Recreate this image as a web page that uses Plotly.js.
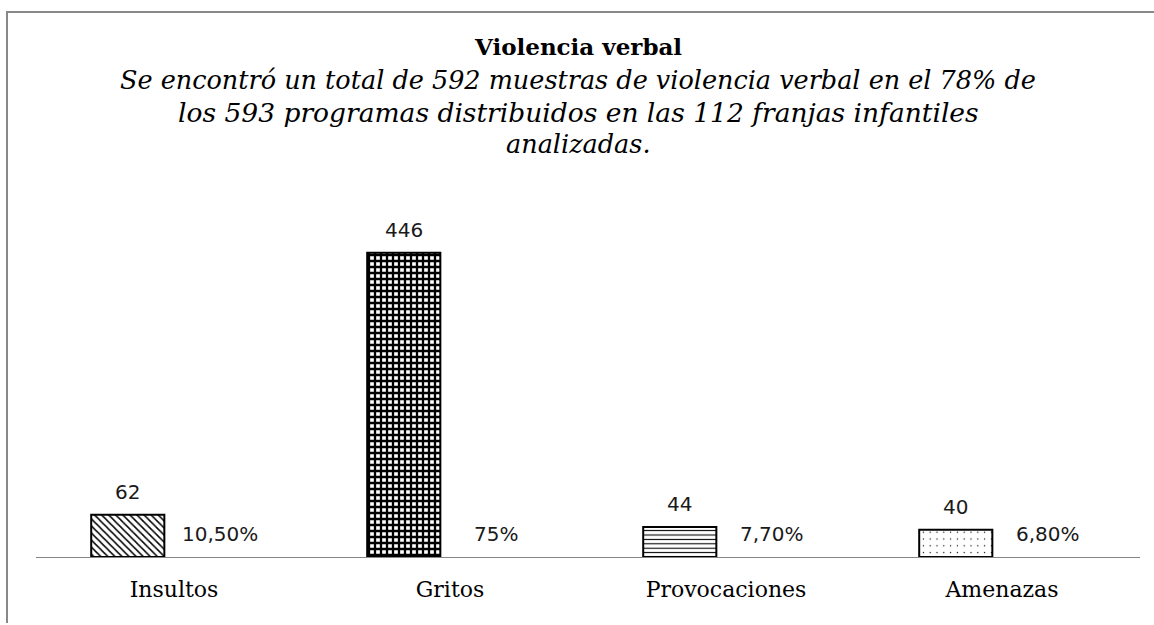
<!DOCTYPE html>
<html>
<head>
<meta charset="utf-8">
<script src="https://cdn.plot.ly/plotly-3.0.1.min.js"></script>
<style>
  html, body { margin: 0; padding: 0; background: #fff; }
  #chart { width: 1154px; height: 625px; }
</style>
</head>
<body>
<div id="chart"></div>
<script>
// ---- data ----
const categories = ['Insultos', 'Gritos', 'Provocaciones', 'Amenazas'];
const counts = [62, 446, 44, 40];
const percentLabels = ['10,50%', '75%', '7,70%', '6,80%'];
const titleText = 'Violencia verbal';
const subtitleLines = [
  'Se encontró un total de 592 muestras de violencia verbal en el 78% de',
  'los 593 programas distribuidos en las 112 franjas infantiles',
  'analizadas.'
];

// ---- layout geometry (pixels) ----
const W = 1154, H = 625;
const M = { l: 36, r: 14, t: 216, b: 68 };
const plotW = W - M.l - M.r, plotH = H - M.t - M.b;
const px2x = px => (px - M.l) / plotW;
const py2y = py => (H - M.b - py) / plotH;

const barOffset = -0.30, barWidth = 0.265;

const barTrace = {
  type: 'bar',
  x: categories,
  y: counts,
  offset: barOffset,
  width: barWidth,
  hoverinfo: 'x+y',
  marker: {
    color: 'white',
    line: { color: '#000', width: 2 },
    pattern: {
      shape: ['\\', '+', '-', '.'],
      size: [5, 6, 4.4, 6.8],
      solidity: [0.3, 0.62, 0.25, 0.03],
      fgcolor: '#000',
      bgcolor: '#fff',
      fillmode: 'replace'
    }
  }
};

const annotations = [];
counts.forEach((v, i) => {
  annotations.push({
    x: i + barOffset + barWidth / 2, y: v, xref: 'x', yref: 'y',
    text: String(v), showarrow: false, yanchor: 'bottom', yshift: 9,
    font: { family: 'DejaVu Sans', size: 20, color: '#1a1a1a' }
  });
});
percentLabels.forEach((t, i) => {
  annotations.push({
    x: i + 0.165, y: 0, xref: 'x', yref: 'y',
    text: t, showarrow: false, yanchor: 'bottom', yshift: 9,
    font: { family: 'DejaVu Sans', size: 20, color: '#1a1a1a' }
  });
});
annotations.push({
  x: px2x(578), y: py2y(46), xref: 'paper', yref: 'paper',
  text: '<b>' + titleText + '</b>', showarrow: false, yanchor: 'middle',
  font: { family: 'DejaVu Serif', size: 23, color: '#000' }
});
const subY = [80, 112, 144];
const subSize = [25.5, 26.5, 25.5];
subtitleLines.forEach((t, i) => {
  annotations.push({
    x: px2x(578), y: py2y(subY[i]), xref: 'paper', yref: 'paper',
    text: '<i>' + t + '</i>', showarrow: false, yanchor: 'middle',
    font: { family: 'DejaVu Serif', size: subSize[i], color: '#000' }
  });
});

const frame = {
  type: 'path', xref: 'paper', yref: 'paper',
  path: 'M' + px2x(7) + ',' + py2y(623) + ' L' + px2x(7) + ',' + py2y(12) + ' L' + px2x(1160) + ',' + py2y(12),
  line: { color: '#888888', width: 2 }
};

const layout = {
  width: W, height: H,
  margin: M,
  paper_bgcolor: '#fff', plot_bgcolor: '#fff',
  showlegend: false,
  xaxis: {
    type: 'category',
    showgrid: false, zeroline: false,
    showline: true, linecolor: '#868686', linewidth: 1,
    ticks: '', ticklabelstandoff: 13,
    tickfont: { family: 'DejaVu Serif', size: 22, color: '#000' },
    range: [-0.5, 3.5], fixedrange: true
  },
  yaxis: {
    range: [0, 500], visible: false, showgrid: false, zeroline: false, fixedrange: true
  },
  annotations: annotations,
  shapes: [frame]
};

Plotly.newPlot('chart', [barTrace], layout, { displayModeBar: false, staticPlot: true });
</script>
</body>
</html>
